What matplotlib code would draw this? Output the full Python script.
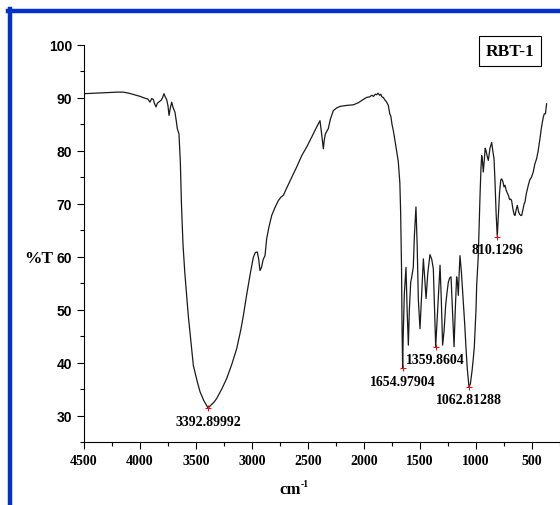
import numpy as np
import matplotlib.pyplot as plt
from matplotlib.lines import Line2D
from matplotlib.ticker import MultipleLocator

# FTIR transmittance spectrum of sample RBT-1
wavenumber = [4500, 4400, 4300, 4200, 4150, 4100, 4000, 3950, 3930, 3911, 3895, 3881, 3870, 3857,
              3845, 3827, 3810, 3800, 3786, 3775, 3762, 3750, 3741, 3730, 3717, 3705, 3688, 3675,
              3667, 3652, 3640, 3630, 3616, 3600, 3569, 3524, 3490, 3464, 3430, 3405, 3392.89992,
              3370, 3340, 3316, 3270, 3226, 3180, 3137, 3100, 3077, 3050, 3018, 3000, 2988, 2970,
              2953, 2940, 2929, 2915, 2900, 2884, 2869, 2850, 2824, 2795, 2765, 2740, 2720, 2690,
              2645, 2600, 2556, 2510, 2467, 2430, 2393, 2380, 2363, 2355, 2345, 2330, 2319, 2300,
              2274, 2245, 2214, 2150, 2095, 2050, 2000, 1976, 1950, 1930, 1915, 1900, 1887, 1875,
              1860, 1850, 1840, 1828, 1810, 1800, 1783, 1770, 1760, 1750, 1738, 1720, 1694, 1680,
              1673, 1665, 1660, 1654.97904, 1650, 1640, 1625, 1615, 1604, 1595, 1583, 1575, 1569,
              1560, 1550, 1536, 1525, 1515, 1500, 1485, 1470, 1458, 1446, 1430, 1411, 1395, 1381,
              1370, 1359.8604, 1350, 1335, 1321, 1310, 1298, 1285, 1271, 1260, 1247, 1235, 1223,
              1210, 1196, 1185, 1173, 1165, 1158, 1150, 1143, 1130, 1113, 1100, 1090, 1078,
              1062.81288, 1050, 1035, 1024, 1015, 1009, 1000, 994, 980, 964, 955, 949, 942, 935,
              925, 918, 911, 900, 890, 875, 860, 850, 839, 830, 820, 810.1296, 800, 790, 779, 771,
              760, 750, 741, 730, 720, 711, 700, 690, 682, 670, 660, 652, 640, 631, 620, 610, 600,
              592, 580, 570, 563, 550, 533, 520, 505, 489, 475, 459, 445, 429, 415, 399, 390, 380,
              370]
transmittance = [90.8, 90.9, 91.0, 91.1, 91.1, 90.9, 90.3, 89.9, 89.8, 89.2, 89.9, 89.7, 88.9, 88.3,
                 89.0, 89.3, 89.6, 90.0, 90.8, 90.2, 89.7, 88.5, 86.7, 88.0, 89.2, 88.2, 87.3, 85.5,
                 84.2, 83.2, 78.0, 70.0, 62.3, 57.0, 48.9, 39.5, 36.5, 34.5, 32.8, 31.9, 31.4,
                 31.9, 32.5, 33.2, 35.0, 37.0, 39.7, 42.6, 46.2, 48.9, 52.5, 56.5, 58.5, 59.9, 60.8,
                 60.9, 59.5, 57.4, 58.0, 59.5, 60.2, 63.4, 65.5, 67.8, 69.3, 70.6, 71.3, 71.6, 73.0,
                 75.0, 77.0, 79.1, 80.8, 82.6, 84.2, 85.7, 83.5, 80.4, 82.0, 83.2, 83.8, 84.2, 86.0,
                 87.6, 88.1, 88.4, 88.6, 88.7, 89.1, 89.8, 90.1, 90.2, 90.5, 90.3, 90.7, 90.6, 90.9,
                 90.5, 90.7, 90.2, 90.1, 89.5, 89.3, 88.6, 87.0, 86.5, 85.0, 83.8, 81.5, 78.0, 74.0,
                 68.5, 58.0, 46.0, 38.9, 45.0, 53.0, 58.0, 50.0, 43.3, 50.0, 55.2, 56.0, 56.8,
                 58.0, 64.0, 69.4, 62.0, 52.0, 46.4, 53.0, 59.6, 56.0, 52.1, 57.0, 60.4, 59.5, 57.7,
                 50.0, 43.0, 47.0, 53.0, 58.4, 52.0, 43.3, 46.0, 50.8, 53.0, 55.2, 56.0, 56.2,
                 50.0, 43.0, 50.0, 56.2, 55.0, 52.7, 57.0, 60.2, 57.0, 51.4, 47.0, 43.0, 38.9,
                 35.4, 36.0, 38.5, 40.8, 43.0, 45.8, 50.0, 54.6, 60.0, 71.6, 77.0, 79.1, 78.0, 76.0,
                 78.5, 80.5, 80.1, 79.0, 78.2, 80.5, 81.6, 80.0, 78.5, 74.0, 68.0, 63.8, 68.0, 72.0, 74.5, 74.7,
                 74.2, 73.2, 73.5, 72.5, 72.0, 71.6, 70.8, 70.9, 70.6, 69.0, 68.0, 67.8, 69.0, 69.7, 68.5, 68.0, 67.8,
                 67.8, 69.0, 70.0, 70.3, 72.0, 73.5, 74.5, 75.0, 76.0, 77.5, 78.5, 80.0, 82.3, 84.5, 86.4, 87.0, 87.0,
                 88.9]

# picked peaks
peak_wn = [3392.89992, 1654.97904, 1359.8604, 1062.81288, 810.1296]
peak_T = [31.4, 38.9, 43.0, 35.4, 63.8]
peak_labels = ['3392.89992', '1654.97904', '1359.8604', '1062.81288', '810.1296']

serif = 'Liberation Serif'
sans = 'Liberation Sans'

fig = plt.figure(figsize=(5.6, 5.06), dpi=100)
ax = fig.add_axes([84/560, 63/506, 504/560, 397/506])

ax.plot(wavenumber, transmittance, color='#1a1a1a', lw=0.9)
ax.plot(peak_wn, peak_T, linestyle='None', marker='+', color='red', ms=5, mew=0.7)
for wn, t, lab in zip(peak_wn, peak_T, peak_labels):
    ax.annotate(lab, (wn, t), xytext=(0, -13), textcoords='offset pixels',
                ha='center', va='center', fontsize=10, fontweight='bold', family=serif)

ax.set_xlim(4500, 0)
ax.set_ylim(25, 100)
ax.xaxis.set_minor_locator(MultipleLocator(250))
ax.yaxis.set_minor_locator(MultipleLocator(5))
ax.set_xticks(np.arange(4500, 499, -500))
ax.set_yticks(np.arange(30, 101, 10))
ax.tick_params(which='major', direction='out', length=5, width=0.8)
ax.tick_params(which='minor', direction='out', length=3, width=0.8)
for lb in ax.get_xticklabels():
    lb.set_fontfamily(serif)
    lb.set_fontweight('bold')
    lb.set_fontsize(10)
for lb in ax.get_yticklabels():
    lb.set_fontfamily(sans)
    lb.set_fontweight('bold')
    lb.set_fontsize(10)
ax.spines['top'].set_visible(False)
ax.spines['right'].set_visible(False)

ax.set_ylabel('%T', rotation=0, ha='center', va='center', fontsize=12.5,
              fontweight='bold', family=serif)
ax.yaxis.set_label_coords(-0.09, 0.463)

# x label: "cm" with a small raised "-1"
ax.text(0.43, -0.118, 'cm', transform=ax.transAxes, ha='right', va='center',
        fontsize=12, fontweight='bold', family=serif)
ax.text(0.43, -0.104, '-1', transform=ax.transAxes, ha='left', va='center',
        fontsize=7, fontweight='bold', family=serif)

ax.text(0.845, 0.985, 'RBT-1', transform=ax.transAxes, ha='center', va='center',
        fontsize=12.5, fontweight='bold', family=serif,
        bbox=dict(boxstyle='square,pad=0.4', fc='white', ec='black', lw=0.8))

# blue frame
fig.add_artist(Line2D([8/560, 1.0], [1 - 12/506, 1 - 12/506], color='#0432c9', lw=3.2,
                      transform=fig.transFigure))
fig.add_artist(Line2D([10/560, 10/560], [0.0, 1 - 10/506], color='#0432c9', lw=3.2,
                      transform=fig.transFigure))

fig.savefig('out.png', dpi=100)
